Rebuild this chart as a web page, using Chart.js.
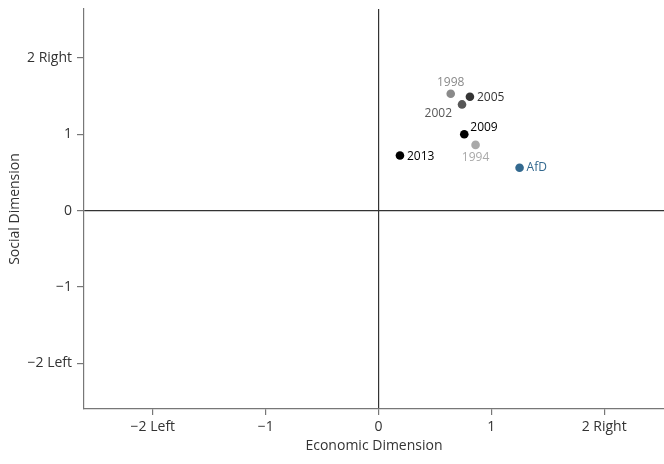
<!DOCTYPE html>
<html>
<head>
<meta charset="utf-8">
<script src="https://cdn.jsdelivr.net/npm/chart.js@4.4.1/dist/chart.umd.min.js"></script>
<style>
  html, body { margin: 0; padding: 0; background: #fff; }
  #wrap { width: 664px; height: 464px; position: relative; }
</style>
</head>
<body>
<div id="wrap"><canvas id="c"></canvas></div>
<script>
// party positions (Economic / Social dimension)
var pointLabels = ["1994", "1998", "2002", "2005", "2009", "2013", "AfD"];
var economicValues = [0.86, 0.64, 0.74, 0.81, 0.76, 0.19, 1.25];
var socialValues = [0.86, 1.53, 1.39, 1.49, 1.00, 0.72, 0.56];

var tickValues = [-2, -1, 0, 1, 2];
var xTickLabels = ["\u22122 Left", "\u22121", "0", "1", "2 Right"];
var yTickLabels = ["\u22122 Left", "\u22121", "0", "1", "2 Right"];

var pointColors = ["#a9a9a9", "#8a8a8a", "#575757", "#353535", "#000000", "#000000", "#33698f"];
// where each label sits relative to its dot: [dx, dy, align]
var labelPlacement = [
  [0, 13, "center"],
  [0, -11, "center"],
  [-10, 9, "right"],
  [7, 1, "left"],
  [6, -7, "left"],
  [7, 1, "left"],
  [7, 0, "left"]
];

var FONT = "'Open Sans', 'DejaVu Sans', sans-serif";

var datasets = pointLabels.map(function (lab, i) {
  return {
    label: lab,
    data: [{ x: economicValues[i], y: socialValues[i] }],
    backgroundColor: pointColors[i],
    borderWidth: 0,
    pointRadius: 4.3,
    pointHoverRadius: 4.3
  };
});

var labelPlugin = {
  id: "pointLabels",
  afterDatasetsDraw: function (chart) {
    var ctx = chart.ctx;
    ctx.save();
    ctx.font = "12px " + FONT;
    ctx.textBaseline = "middle";
    chart.data.datasets.forEach(function (ds, i) {
      var el = chart.getDatasetMeta(i).data[0];
      var p = labelPlacement[i];
      ctx.fillStyle = pointColors[i];
      ctx.textAlign = p[2];
      ctx.fillText(ds.label, el.x + p[0], el.y + p[1]);
    });
    ctx.restore();
  }
};

function zeroLine(c) {
  return c.tick && c.tick.value === 0 ? "#333333" : "rgba(0,0,0,0)";
}

new Chart(document.getElementById("c"), {
  type: "scatter",
  data: { datasets: datasets },
  plugins: [labelPlugin],
  options: {
    responsive: true,
    maintainAspectRatio: false,
    animation: false,
    // no automatic room for the dots: the plot runs to the right edge
    layout: { autoPadding: false, padding: { top: 9, right: 0, left: 0, bottom: 0 } },
    plugins: { legend: { display: false }, tooltip: { enabled: false } },
    scales: {
      x: {
        type: "linear",
        min: -2.61,
        max: 2.53,
        afterBuildTicks: function (s) { s.ticks = tickValues.map(function (v) { return { value: v }; }); },
        afterFit: function (s) { s.height = 55; s.paddingLeft = 0; s.paddingRight = 0; },
        grid: { color: zeroLine, lineWidth: 1.2, tickColor: "#777", tickLength: 6, drawOnChartArea: true },
        border: { color: "#777", width: 1.2 },
        ticks: {
          color: "#333",
          font: { family: FONT, size: 14 },
          padding: 4,
          maxRotation: 0,
          callback: function (v) { return xTickLabels[tickValues.indexOf(v)]; }
        },
        title: {
          display: true,
          text: "Economic Dimension",
          color: "#333",
          font: { family: FONT, size: 14 },
          padding: { top: 0, bottom: 10 }
        }
      },
      y: {
        type: "linear",
        min: -2.6,
        max: 2.64,
        afterBuildTicks: function (s) { s.ticks = tickValues.map(function (v) { return { value: v }; }); },
        afterFit: function (s) { s.width = 84; s.paddingTop = 0; s.paddingBottom = 0; },
        grid: { color: zeroLine, lineWidth: 1.2, tickColor: "#777", tickLength: 7, drawOnChartArea: true },
        border: { color: "#777", width: 1.2 },
        ticks: {
          color: "#333",
          font: { family: FONT, size: 14 },
          padding: 5,
          callback: function (v) { return yTickLabels[tickValues.indexOf(v)]; }
        },
        title: {
          display: true,
          text: "Social Dimension",
          color: "#333",
          font: { family: FONT, size: 14 },
          padding: { top: 7, bottom: 0 }
        }
      }
    }
  }
});
</script>
</body>
</html>
